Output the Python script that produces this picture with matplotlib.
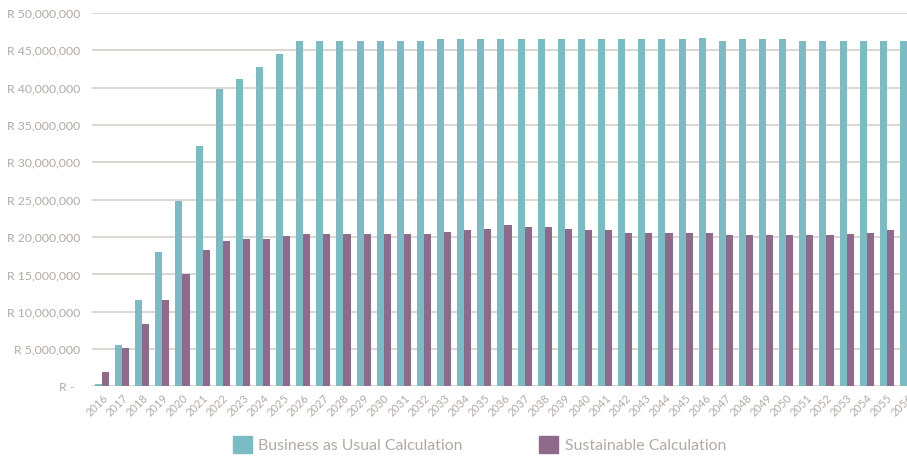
import matplotlib.pyplot as plt
import numpy as np
from matplotlib.patches import Patch
from matplotlib.ticker import FuncFormatter

years = list(range(2016, 2057))

# annual cost, rand
business_as_usual = [
    0.3e6, 5.6e6, 11.6e6, 18.0e6, 24.8e6, 32.2e6, 39.8e6, 41.2e6, 42.8e6, 44.5e6,
    46.2e6, 46.2e6, 46.3e6, 46.3e6, 46.3e6, 46.3e6, 46.3e6, 46.5e6, 46.5e6, 46.5e6,
    46.5e6, 46.5e6, 46.5e6, 46.5e6, 46.5e6, 46.5e6, 46.5e6, 46.5e6, 46.5e6, 46.5e6,
    46.7e6, 46.3e6, 46.5e6, 46.5e6, 46.5e6, 46.2e6, 46.2e6, 46.2e6, 46.2e6, 46.2e6,
    46.2e6,
]
sustainable = [
    2.0e6, 5.1e6, 8.3e6, 11.6e6, 15.1e6, 18.3e6, 19.5e6, 19.8e6, 19.8e6, 20.1e6,
    20.4e6, 20.4e6, 20.4e6, 20.4e6, 20.4e6, 20.4e6, 20.4e6, 20.7e6, 21.0e6, 21.1e6,
    21.6e6, 21.35e6, 21.35e6, 21.1e6, 21.0e6, 21.0e6, 20.6e6, 20.6e6, 20.6e6, 20.6e6,
    20.6e6, 20.3e6, 20.3e6, 20.3e6, 20.3e6, 20.3e6, 20.3e6, 20.4e6, 20.6e6, 21.0e6,
    21.2e6,
]

TEAL = '#7bbcc4'
PLUM = '#8f6a8a'
GRID = '#d9d3cd'
TEXT = '#b3aaa3'

plt.rcParams['font.family'] = ['Lato', 'DejaVu Sans']

fig = plt.figure(figsize=(9.07, 4.57), dpi=100)
ax = fig.add_axes([0.1014, 0.1543, 0.8986, 0.8173])

x = np.arange(len(years))
w = 0.35
ax.bar(x - w / 2, business_as_usual, w, color=TEAL, zorder=3)
ax.bar(x + w / 2, sustainable, w, color=PLUM, zorder=3)

ax.set_ylim(0, 50e6)
ax.set_xlim(-0.4975, 40.0)
ax.set_yticks(np.arange(0, 50e6 + 1, 5e6))


def rand_fmt(v, pos):
    if v == 0:
        return 'R -  '
    return f'R {v:,.0f}'


ax.yaxis.set_major_formatter(FuncFormatter(rand_fmt))
ax.set_xticks(x)
ax.set_xticklabels([str(y) for y in years], rotation=45, ha='right',
                   rotation_mode='anchor')

ax.grid(axis='y', color=GRID, linewidth=1.3, zorder=0)
ax.tick_params(axis='both', length=0, colors=TEXT)
ax.tick_params(axis='y', pad=8.6, labelsize=8.8)
ax.tick_params(axis='x', pad=4, labelsize=8)
for s in ax.spines.values():
    s.set_visible(False)

handles = [Patch(color=TEAL, label='Business as Usual Calculation'),
           Patch(color=PLUM, label='Sustainable Calculation')]
leg = fig.legend(handles=handles, loc='center', bbox_to_anchor=(0.5287, 0.027),
                 ncol=2, frameon=False, fontsize=11.4, handlelength=1.2,
                 handleheight=1.2, handletextpad=0.38, columnspacing=4.85,
                 borderpad=0.2)
for t in leg.get_texts():
    t.set_color(TEXT)

fig.savefig('out.png', dpi=100)
